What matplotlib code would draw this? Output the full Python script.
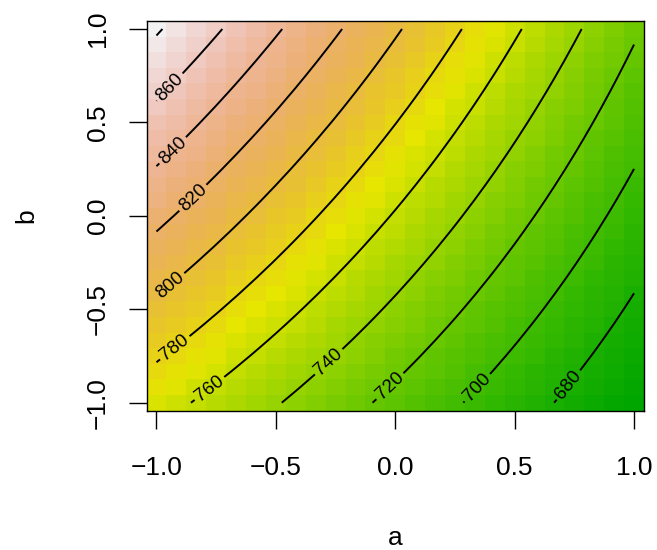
import numpy as np
import matplotlib
matplotlib.use('Agg')
import matplotlib.pyplot as plt
from matplotlib.colors import ListedColormap, hsv_to_rgb

plt.rcParams['font.family'] = ['Liberation Sans', 'DejaVu Sans']

# grid of the image (25 x 25 cells)
a_vals = np.linspace(-1, 1, 25)
b_vals = np.linspace(-1, 1, 25)

# surface values read at the four corners: rows b = -1, 1 ; cols a = -1, 1
corner_a = [-1.0, 1.0]
corner_b = [-1.0, 1.0]
corner_z = [[767.6, 662.4],
            [882.0, 722.5]]

contour_levels = [680, 700, 720, 740, 760, 780, 800, 820, 840, 860, 880]
labelled_levels = [680, 700, 720, 740, 760, 780, 800, 820, 840, 860]
label_pos = [(0.72, -0.90), (0.34, -0.915), (-0.02, -0.915), (-0.275, -0.786),
             (-0.79, -0.904), (-0.933, -0.69), (-0.945, -0.369), (-0.849, 0.099),
             (-0.937, 0.357), (-0.945, 0.69)]

tick_vals = [-1.0, -0.5, 0.0, 0.5, 1.0]
tick_labels = ['\u22121.0', '\u22120.5', '0.0', '0.5', '1.0']

# bilinear surface between the corner values
A, B = np.meshgrid(a_vals, b_vals)
ta = (A - corner_a[0]) / (corner_a[1] - corner_a[0])
tb = (B - corner_b[0]) / (corner_b[1] - corner_b[0])
Z = ((1 - tb) * ((1 - ta) * corner_z[0][0] + ta * corner_z[0][1])
     + tb * ((1 - ta) * corner_z[1][0] + ta * corner_z[1][1]))


def terrain_colors(n):
    # same ramp as R's terrain.colors()
    k = n // 2
    h = np.r_[np.linspace(4 / 12, 2 / 12, k), np.linspace(2 / 12, 0, n - k + 1)[1:]]
    s = np.r_[np.ones(k), np.linspace(1, 0, n - k + 1)[1:]]
    v = np.r_[np.linspace(0.65, 0.9, k), np.linspace(0.9, 0.95, n - k + 1)[1:]]
    return hsv_to_rgb(np.column_stack([h, s, v]))


cmap = ListedColormap(terrain_colors(100))

fig = plt.figure(figsize=(6.57, 5.5), dpi=100)
fig.patch.set_facecolor('white')
ax = fig.add_axes([146.5 / 657, 1 - 410.5 / 550, 497.5 / 657, 389.3 / 550])

ax.pcolormesh(a_vals, b_vals, Z, shading='nearest', cmap=cmap,
              vmin=Z.min(), vmax=Z.max())
cs = ax.contour(a_vals, b_vals, Z, levels=contour_levels, colors='black',
                linewidths=1.4)
ax.clabel(cs, levels=labelled_levels, manual=label_pos, fmt='%d',
          fontsize=13.5, inline=True, inline_spacing=3)

half = (a_vals[1] - a_vals[0]) / 2
ax.set_xlim(a_vals[0] - half, a_vals[-1] + half)
ax.set_ylim(b_vals[0] - half, b_vals[-1] + half)

ax.set_xticks(tick_vals)
ax.set_xticklabels(tick_labels)
ax.set_yticks(tick_vals)
ax.set_yticklabels(tick_labels, rotation=90, va='center')
ax.tick_params(axis='both', direction='out', length=13, width=1.0,
               labelsize=19, colors='black')
ax.tick_params(axis='x', pad=19.5)
ax.tick_params(axis='y', pad=13.5)
for sp in ax.spines.values():
    sp.set_linewidth(1.0)
    sp.set_color('black')

fig.text(395 / 657, 1 - 538 / 550, 'a', ha='center', va='center', fontsize=19)
fig.text(26 / 657, 1 - 216 / 550, 'b', ha='center', va='center', fontsize=19,
         rotation=90)

fig.savefig('out.png', dpi=100, facecolor='white')
